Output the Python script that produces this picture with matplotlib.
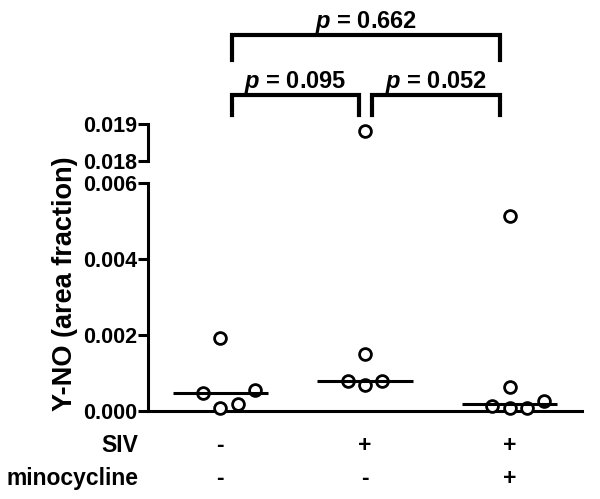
"""Y-NO area fraction per treatment group, broken y axis, with p-value brackets."""
import matplotlib
matplotlib.use("Agg")
import matplotlib.pyplot as plt
import matplotlib.transforms as mtransforms
import numpy as np

plt.rcParams["font.family"] = ["Liberation Sans", "DejaVu Sans"]
plt.rcParams["font.weight"] = "bold"
plt.rcParams["mathtext.fontset"] = "custom"
plt.rcParams["mathtext.bfit"] = "Liberation Sans:italic:bold"

# data
siv_signs = ["-", "+", "+"]
mino_signs = ["-", "-", "+"]
control = [0.00193, 0.00046, 0.00056, 0.00009, 0.00018]
siv = [0.01881, 0.00151, 0.00080, 0.00069, 0.00080]
siv_mino = [0.00512, 0.00064, 0.00014, 0.00007, 0.00009, 0.00025]
p_labels = ["0.095", "0.052", "0.662"]

groups = [control, siv, siv_mino]
# horizontal spread of points inside each column (GraphPad style)
spread = [[0, -0.12, 0.24, 0, 0.12],
          [0, 0, -0.12, 0, 0.12],
          [0, 0, -0.12, 0, 0.12, 0.24]]

LW = 2.2
fig = plt.figure(figsize=(6, 4.99), dpi=100)
ax_low = fig.add_axes([0.2467, 0.1764, 0.7233, 0.4569])
ax_top = fig.add_axes([0.2467, 0.6774, 0.7233, 0.0741])

for ax, lim, ticks in [(ax_low, (0, 0.006), [0, 0.002, 0.004, 0.006]),
                       (ax_top, (0.018, 0.019), [0.018, 0.019])]:
    for i, vals in enumerate(groups):
        xs = [i + d for d in spread[i]]
        ax.plot(xs, vals, "o", ms=8.5, mfc="white", mec="black", mew=2.0,
                clip_on=False, zorder=3, ls="none")
        if ax is ax_low:
            med = np.median(vals)
            ax.plot([i - 0.33, i + 0.33], [med, med], color="black",
                    lw=LW, zorder=4, solid_capstyle="butt")
    ax.set_xlim(-0.5, 2.5)
    ax.set_ylim(*lim)
    ax.set_yticks(ticks)
    ax.set_yticklabels([f"{t:.3f}" for t in ticks])
    ax.set_xticks([])
    ax.tick_params(axis="y", length=7, width=LW, pad=1, labelsize=15.5)
    for s in ["top", "right"]:
        ax.spines[s].set_visible(False)
    ax.spines["left"].set_linewidth(LW)
    ax.spines["bottom"].set_linewidth(LW)
    ax.patch.set_alpha(0)

ax_top.spines["bottom"].set_visible(False)

fig.text(0.108, 0.432, "Y-NO (area fraction)", rotation=90, ha="center",
         va="center", fontsize=19.5, fontweight="bold")

# treatment rows under the axis
xfig = mtransforms.blended_transform_factory(ax_low.transData, fig.transFigure)
for label, signs, y in [("SIV", siv_signs, 0.108), ("minocycline", mino_signs, 0.042)]:
    fig.text(0.23, y, label, ha="right", va="center", fontsize=16.5)
    for i, s in enumerate(signs):
        ax_low.text(i, y, s, transform=xfig, ha="center", va="center",
                    fontsize=16.5, clip_on=False)

# significance brackets
btr = mtransforms.blended_transform_factory(ax_top.transData, fig.transFigure)
brackets = [(0.08, 0.96, 0.770, 0.810, 0.836),
            (1.05, 1.93, 0.770, 0.810, 0.836),
            (0.08, 1.93, 0.880, 0.930, 0.956)]
for (x0, x1, yb, yt, ytxt), p in zip(brackets, p_labels):
    ax_top.plot([x0, x0, x1, x1], [yb, yt, yt, yb], color="black", lw=3,
                transform=btr, clip_on=False, solid_joinstyle="miter")
    ax_top.text((x0 + x1) / 2, ytxt, r"$\mathbfit{p}$ = " + p, transform=btr,
                ha="center", va="center", fontsize=17, fontweight="bold")

plt.savefig("out.png", dpi=100)
plt.close()
